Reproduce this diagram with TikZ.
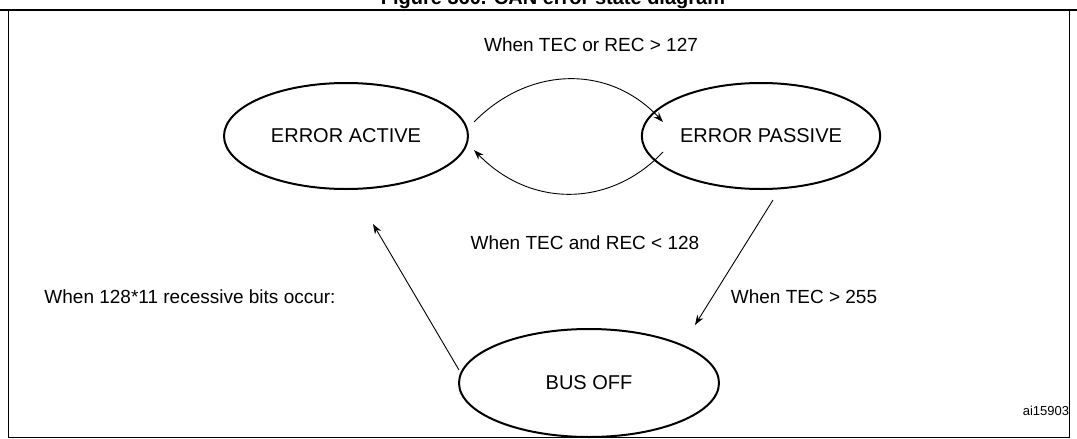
\documentclass[tikz,border=0pt]{standalone}
\usepackage{fontspec}
\setmainfont{Liberation Sans}
\usetikzlibrary{shapes.geometric,arrows.meta}
\begin{document}
\begin{tikzpicture}[x=1pt,y=-1pt,
  st/.style={draw,line width=2pt,ellipse,font=\fontsize{20}{24}\selectfont},
  lab/.style={font=\fontsize{19}{23}\selectfont,inner sep=0},
  arr/.style={-{Stealth[length=10pt,width=7pt]},line width=0.9pt}]
\useasboundingbox (0,0) rectangle (1077,439);
\node[font=\bfseries\fontsize{20}{24}\selectfont,inner sep=0] (title) at (553,-1) {Figure 360. CAN error state diagram};
\draw[line width=1.2pt] (0,10) -- (1077,10);
\draw[line width=0.8pt] (8,10) -- (8,437) -- (1069,437) -- (1069,10);
\node[st,minimum width=244pt,minimum height=106pt] (ea) at (346,136) {ERROR ACTIVE};
\node[st,minimum width=200pt,minimum height=106pt] (ep) at (761,136) {ERROR PASSIVE};
\node[st,minimum width=260pt,minimum height=108pt] (bo) at (589,383) {BUS OFF};
\coordinate (a1) at (474,122); \coordinate (a2) at (663,122);
\coordinate (b1) at (663,152); \coordinate (b2) at (474,150);
\coordinate (c1) at (459,370); \coordinate (c2) at (373,224);
\coordinate (d1) at (773,200); \coordinate (d2) at (695,325);
\draw[arr] (a1) .. controls (530,65) and (610,65) .. (a2);
\draw[arr] (b1) .. controls (610,208) and (530,208) .. (b2);
\draw[arr] (c1) -- (c2);
\draw[arr] (d1) -- (d2);
\node[lab] (l1) at (591,45) {When TEC or REC > 127};
\node[lab] (l2) at (585,243) {When TEC and REC < 128};
\node[lab] (l3) at (190,297) {When 128*11 recessive bits occur:};
\node[lab] (l4) at (804,297) {When TEC > 255};
\node[font=\fontsize{13}{15}\selectfont,inner sep=0] (id) at (1046,411) {ai15903};
\end{tikzpicture}
\end{document}
